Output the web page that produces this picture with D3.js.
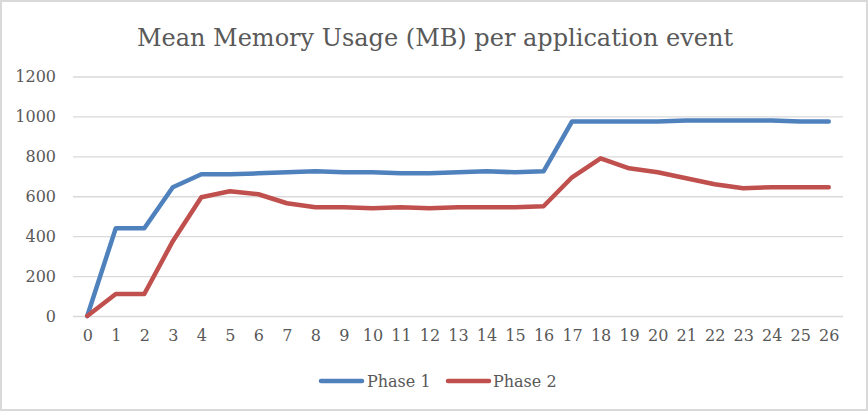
<!DOCTYPE html>
<html>
<head>
<meta charset="utf-8">
<script src="https://cdn.jsdelivr.net/npm/d3@7"></script>
<style>
  html, body { margin: 0; padding: 0; background: #fff; }
  svg { display: block; }
</style>
</head>
<body>
<svg id="chart" width="868" height="411"></svg>
<script>
const titleText = "Mean Memory Usage (MB) per application event";
const categories = ["0","1","2","3","4","5","6","7","8","9","10","11","12","13","14","15","16","17","18","19","20","21","22","23","24","25","26"];
const seriesNames = ["Phase 1", "Phase 2"];
const phase1 = [0, 440, 440, 645, 710, 710, 715, 720, 725, 720, 720, 715, 715, 720, 725, 720, 725, 975, 975, 975, 975, 980, 980, 980, 980, 975, 975];
const phase2 = [0, 110, 110, 375, 595, 625, 610, 565, 545, 545, 540, 545, 540, 545, 545, 545, 550, 695, 790, 740, 720, 690, 660, 640, 645, 645, 645];
const yTicks = [0, 200, 400, 600, 800, 1000, 1200];
const colors = ["#4F81BD", "#C0504D"];

const svg = d3.select("#chart");
const font = "'DejaVu Serif', serif";
const textColor = "#595959";

// outer border
svg.append("rect").attr("x", 1).attr("y", 1).attr("width", 866).attr("height", 409)
  .attr("fill", "#fff").attr("stroke", "#D9D9D9").attr("stroke-width", 2);

const x = d3.scalePoint().domain(categories).range([73, 843]).padding(0.5);
const y = d3.scaleLinear().domain([0, 1200]).range([316, 76.5]);

// gridlines
const yAxis = d3.axisLeft(y).tickValues(yTicks).tickFormat(d3.format("d"))
  .tickSize(-(843 - 73)).tickPadding(17);
const gy = svg.append("g").attr("transform", "translate(73,0)").call(yAxis);
gy.select(".domain").remove();
gy.selectAll(".tick line").attr("stroke", "#D9D9D9").attr("stroke-width", 1.4);
gy.selectAll(".tick text").attr("fill", textColor).attr("font-family", font).attr("font-size", 16);

const xAxis = d3.axisBottom(x).tickSize(0).tickPadding(14);
const gx = svg.append("g").attr("transform", "translate(0,316)").call(xAxis);
gx.select(".domain").remove();
gx.selectAll(".tick text").attr("fill", textColor).attr("font-family", font).attr("font-size", 16);

// lines
const line = d3.line().x((d, i) => x(categories[i])).y(d => y(d));
[phase1, phase2].forEach((s, k) => {
  svg.append("path").datum(s).attr("d", line).attr("fill", "none")
    .attr("stroke", colors[k]).attr("stroke-width", 4.5)
    .attr("stroke-linejoin", "round").attr("stroke-linecap", "round");
});

// title
svg.append("text").attr("x", 435).attr("y", 46).attr("text-anchor", "middle")
  .attr("font-family", font).attr("font-size", 24).attr("fill", textColor).text(titleText);

// legend
const legendItems = [{x: 320, tx: 367}, {x: 447, tx: 493}];
seriesNames.forEach((n, k) => {
  const li = legendItems[k];
  svg.append("line").attr("x1", li.x + 1).attr("x2", li.x + 42).attr("y1", 381).attr("y2", 381)
    .attr("stroke", colors[k]).attr("stroke-width", 4.5).attr("stroke-linecap", "round");
  svg.append("text").attr("x", li.tx).attr("y", 381).attr("dy", "0.35em")
    .attr("font-family", font).attr("font-size", 16).attr("fill", textColor).text(n);
});
</script>
</body>
</html>
